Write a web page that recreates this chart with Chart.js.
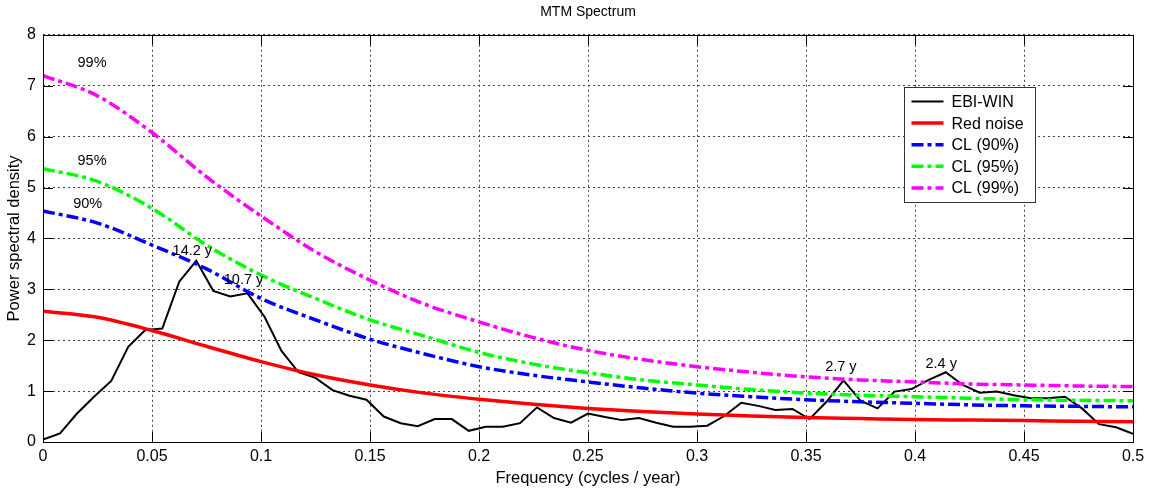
<!DOCTYPE html>
<html>
<head>
<meta charset="utf-8">
<script src="https://cdn.jsdelivr.net/npm/chart.js@4"></script>
<style>
    html, body { margin: 0; padding: 0; background: #fff; }
    #wrap { width: 1151px; height: 488px; }
</style>
</head>
<body>
<div id="wrap"><canvas id="mtmChart" width="1151" height="488"></canvas></div>
<script>
// ─── data ───────────────────────────────────────────────────────────────────
const specFreqs = [
    0, 0.0078, 0.0156, 0.0234, 0.0313, 0.0391, 0.0469, 0.0547, 0.0625, 0.0703,
    0.0781, 0.0859, 0.0938, 0.1016, 0.1094, 0.1172, 0.125, 0.1328, 0.1406, 0.1484,
    0.1563, 0.1641, 0.1719, 0.1797, 0.1875, 0.1953, 0.2031, 0.2109, 0.2188, 0.2266,
    0.2344, 0.2422, 0.25, 0.2578, 0.2656, 0.2734, 0.2813, 0.2891, 0.2969, 0.3047,
    0.3125, 0.3203, 0.3281, 0.3359, 0.3438, 0.3516, 0.3594, 0.3672, 0.375, 0.3828,
    0.3906, 0.3984, 0.4063, 0.4141, 0.4219, 0.4297, 0.4375, 0.4453, 0.4531, 0.4609,
    0.4688, 0.4766, 0.4844, 0.4922, 0.5
];
const ebiWin = [
    0.05, 0.17, 0.56, 0.89, 1.20, 1.87, 2.20, 2.23, 3.15, 3.56,
    2.97, 2.86, 2.92, 2.46, 1.79, 1.37, 1.26, 1.02, 0.91, 0.83,
    0.50, 0.37, 0.31, 0.45, 0.45, 0.22, 0.30, 0.30, 0.37, 0.68,
    0.47, 0.38, 0.56, 0.49, 0.43, 0.47, 0.38, 0.30, 0.30, 0.32,
    0.51, 0.77, 0.71, 0.63, 0.65, 0.45, 0.79, 1.21, 0.81, 0.66,
    0.99, 1.04, 1.22, 1.37, 1.12, 0.97, 0.99, 0.92, 0.86, 0.86,
    0.89, 0.66, 0.35, 0.29, 0.16
];

const clFreqs = [
    0, 0.025, 0.05, 0.075, 0.1, 0.125, 0.15, 0.175, 0.2, 0.225, 0.25,
    0.275, 0.3, 0.325, 0.35, 0.375, 0.4, 0.425, 0.45, 0.475, 0.5
];
const redNoise = [2.57, 2.45, 2.19, 1.88, 1.58, 1.32, 1.12, 0.96, 0.84, 0.74, 0.66, 0.60, 0.55, 0.51, 0.48, 0.46, 0.44, 0.43, 0.42, 0.41, 0.40];
const cl90 = [4.54, 4.30, 3.87, 3.40, 2.82, 2.40, 2.02, 1.73, 1.48, 1.31, 1.18, 1.06, 0.96, 0.89, 0.83, 0.79, 0.76, 0.73, 0.71, 0.70, 0.69];
const cl95 = [5.37, 5.12, 4.59, 3.87, 3.28, 2.82, 2.40, 2.08, 1.76, 1.53, 1.36, 1.22, 1.12, 1.03, 0.96, 0.92, 0.89, 0.86, 0.83, 0.82, 0.81];
const cl99 = [7.20, 6.80, 6.08, 5.21, 4.44, 3.74, 3.18, 2.71, 2.36, 2.05, 1.80, 1.62, 1.48, 1.37, 1.28, 1.22, 1.18, 1.14, 1.12, 1.10, 1.09];

const xTickLabels = ['0', '0.05', '0.1', '0.15', '0.2', '0.25', '0.3', '0.35', '0.4', '0.45', '0.5'];
const yTickLabels = ['0', '1', '2', '3', '4', '5', '6', '7', '8'];

// text notes placed in data units
const noteTexts = ['99%', '95%', '90%', '14.2 y', '10.7 y', '2.7 y', '2.4 y'];
const noteFreqs = [0.0225, 0.0225, 0.0205, 0.0685, 0.092, 0.366, 0.412];
const noteValues = [7.44, 5.53, 4.67, 3.75, 3.18, 1.47, 1.53];

// ─── helpers ────────────────────────────────────────────────────────────────
const FONT = "'Liberation Sans', Arial, sans-serif";
const DASH_DOT = [12, 4, 4, 4];

const toPoints = (xs, ys) => xs.map((x, i) => ({ x: x, y: ys[i] }));

const lineSet = (label, xs, ys, color, width, dash, order, smooth) => ({
    label: label,
    data: toPoints(xs, ys),
    borderColor: color,
    borderWidth: width,
    borderDash: dash,
    pointRadius: 0,
    fill: false,
    order: order,
    cubicInterpolationMode: smooth ? 'monotone' : 'default',
    tension: 0
});

// box, inward ticks (matlab style)
const frameTicks = {
    id: 'frameTicks',
    afterDatasetsDraw(chart) {
        const { ctx, chartArea: a, scales } = chart;
        const len = 10;
        ctx.save();
        ctx.strokeStyle = '#000';
        ctx.lineWidth = 1;
        ctx.setLineDash([]);
        ctx.beginPath();
        scales.x.ticks.forEach(t => {
            const px = Math.round(scales.x.getPixelForValue(t.value)) + 0.5;
            ctx.moveTo(px, a.bottom); ctx.lineTo(px, a.bottom - len);
            ctx.moveTo(px, a.top); ctx.lineTo(px, a.top + len);
        });
        scales.y.ticks.forEach(t => {
            const py = Math.round(scales.y.getPixelForValue(t.value)) + 0.5;
            ctx.moveTo(a.left, py); ctx.lineTo(a.left + len, py);
            ctx.moveTo(a.right, py); ctx.lineTo(a.right - len, py);
        });
        ctx.stroke();
        ctx.strokeRect(Math.round(a.left) + 0.5, Math.round(a.top) + 0.5,
            Math.round(a.right - a.left), Math.round(a.bottom - a.top));
        ctx.restore();
    }
};

// peak / level notes
const notes = {
    id: 'notes',
    afterDatasetsDraw(chart) {
        const { ctx, scales } = chart;
        ctx.save();
        ctx.fillStyle = '#000';
        ctx.font = '14.5px ' + FONT;
        ctx.textAlign = 'center';
        ctx.textBaseline = 'middle';
        noteTexts.forEach((txt, i) => {
            ctx.fillText(txt, scales.x.getPixelForValue(noteFreqs[i]), scales.y.getPixelForValue(noteValues[i]));
        });
        ctx.restore();
    }
};

// legend box inside the plot, upper right
const boxLegend = {
    id: 'boxLegend',
    afterDraw(chart) {
        const { ctx } = chart;
        const sets = chart.data.datasets;
        const bx = 904.5, by = 87.5, bw = 131, bh = 115;
        const rowH = 21.6;
        ctx.save();
        ctx.fillStyle = '#fff';
        ctx.fillRect(bx, by, bw, bh);
        ctx.strokeStyle = '#333';
        ctx.lineWidth = 1;
        ctx.strokeRect(bx, by, bw, bh);
        ctx.font = '16px ' + FONT;
        ctx.textBaseline = 'middle';
        ctx.textAlign = 'left';
        sets.forEach((ds, i) => {
            const y = by + 14 + i * rowH;
            ctx.beginPath();
            ctx.setLineDash(ds.borderDash || []);
            ctx.strokeStyle = ds.borderColor;
            ctx.lineWidth = ds.borderWidth;
            ctx.moveTo(bx + 7, y);
            ctx.lineTo(bx + 39, y);
            ctx.stroke();
            ctx.setLineDash([]);
            ctx.fillStyle = '#000';
            ctx.fillText(ds.label, bx + 47, y + 1);
        });
        ctx.restore();
    }
};

// ─── chart ──────────────────────────────────────────────────────────────────
new Chart(document.getElementById('mtmChart'), {
    type: 'line',
    data: {
        datasets: [
            lineSet('EBI-WIN', specFreqs, ebiWin, '#000000', 2, [], 5, false),
            lineSet('Red noise', clFreqs, redNoise, '#ff0000', 3.5, [], 4, true),
            lineSet('CL (90%)', clFreqs, cl90, '#0000ff', 3.5, DASH_DOT, 3, true),
            lineSet('CL (95%)', clFreqs, cl95, '#00ff00', 3.5, DASH_DOT, 2, true),
            lineSet('CL (99%)', clFreqs, cl99, '#ff00ff', 3.5, DASH_DOT, 1, true)
        ]
    },
    options: {
        responsive: false,
        animation: false,
        layout: { padding: { left: 0, right: 18, top: 0, bottom: 0 } },
        plugins: {
            legend: { display: false },
            tooltip: { enabled: false },
            title: {
                display: true,
                text: 'MTM Spectrum',
                fullSize: false,
                color: '#000',
                font: { family: FONT, size: 14, weight: 'normal', lineHeight: 1.2 },
                padding: { top: 4, bottom: 14 }
            }
        },
        scales: {
            x: {
                type: 'linear',
                min: 0,
                max: 0.5,
                afterFit: s => { s.height = 46; },
                afterBuildTicks: s => { s.ticks = xTickLabels.map(v => ({ value: parseFloat(v) })); },
                ticks: {
                    color: '#000',
                    font: { family: FONT, size: 16 },
                    padding: 5,
                    maxRotation: 0,
                    autoSkip: false,
                    callback: (v, i) => xTickLabels[i]
                },
                grid: { color: '#444', lineWidth: 1, drawTicks: false },
                border: { display: false, dash: [2, 3] },
                title: {
                    display: true,
                    text: 'Frequency (cycles / year)',
                    color: '#000',
                    font: { family: FONT, size: 16.5, lineHeight: 1.2 },
                    padding: { top: 0, bottom: 0 }
                }
            },
            y: {
                type: 'linear',
                min: 0,
                max: 8,
                afterFit: s => { s.width = 43; },
                afterBuildTicks: s => { s.ticks = yTickLabels.map(v => ({ value: parseFloat(v) })); },
                ticks: {
                    color: '#000',
                    font: { family: FONT, size: 16 },
                    padding: 7,
                    callback: (v, i) => yTickLabels[i]
                },
                grid: { color: '#444', lineWidth: 1, drawTicks: false },
                border: { display: false, dash: [2, 3] },
                title: {
                    display: true,
                    text: 'Power spectral density',
                    color: '#000',
                    font: { family: FONT, size: 16.5, lineHeight: 1.2 },
                    padding: { top: 5, bottom: 0 }
                }
            }
        }
    },
    plugins: [frameTicks, notes, boxLegend]
});
</script>
</body>
</html>
